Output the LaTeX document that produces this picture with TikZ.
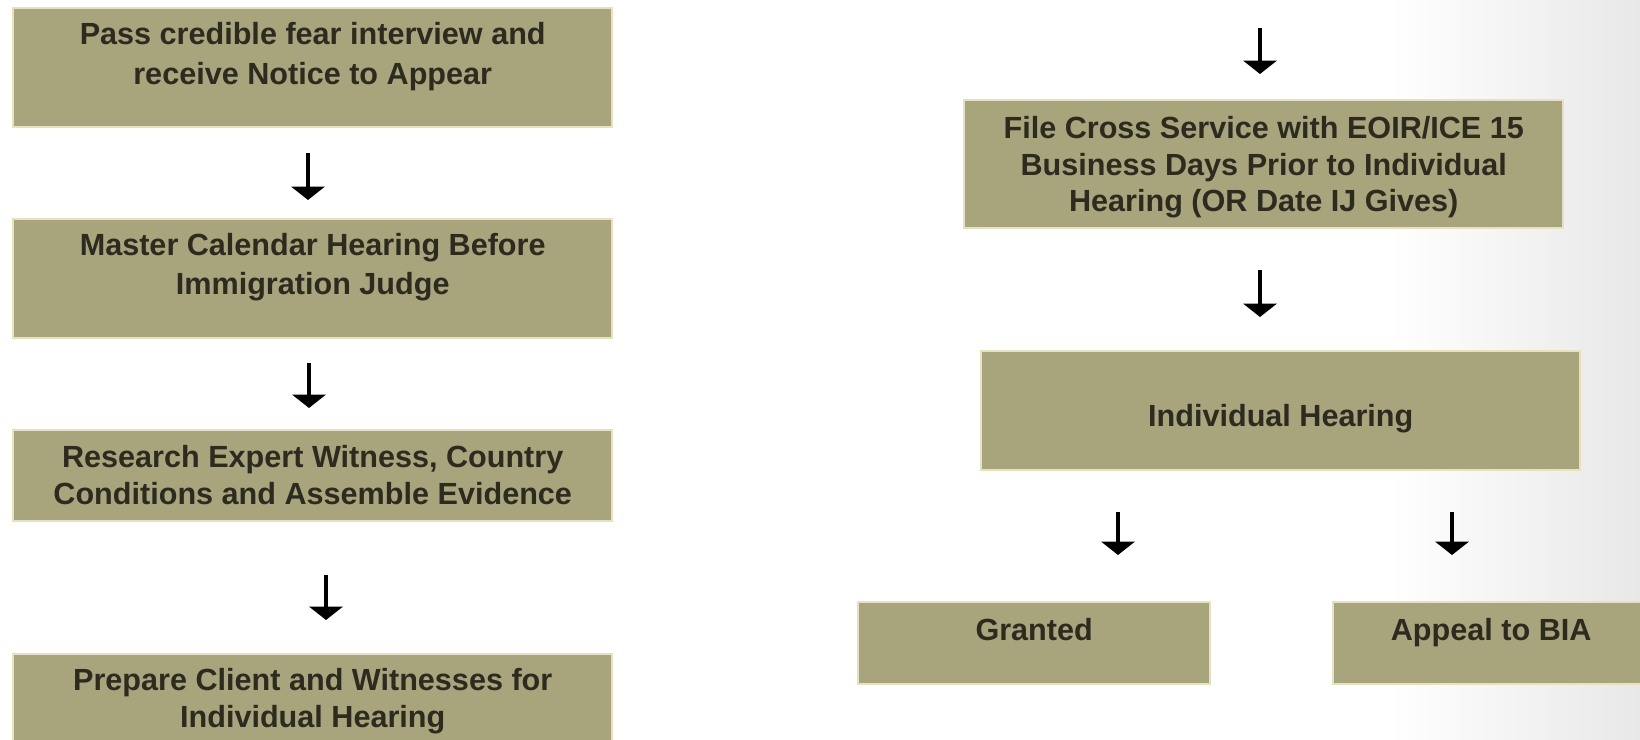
\documentclass[tikz,border=0pt]{standalone}
\usepackage{fontspec}
\setmainfont{Liberation Sans}
\usetikzlibrary{arrows.meta,positioning,calc}
\definecolor{boxfill}{RGB}{168,164,124}
\definecolor{boxline}{RGB}{230,226,192}
\definecolor{ink}{RGB}{45,42,32}
\newcommand{\steptext}[1]{\begin{tabular}[t]{@{}c@{}}#1\end{tabular}}
\tikzset{
    stepbox/.style={draw=boxline, line width=0.6pt, fill=boxfill, text=ink,
        font=\bfseries\fontsize{8.7}{10.5}\selectfont,
        inner sep=0pt, anchor=north west},
    down/.style={draw, line width=1.3pt, -{Triangle[width=9.4pt, length=3.8pt]}}
}
\begin{document}
\begin{tikzpicture}[x=0.01cm, y=-0.01cm]
        \useasboundingbox (0,0) rectangle (1640,739);
        % background
        \shade[left color=white, right color=black!9] (1390,0) rectangle (1640,739);
        % left column
        \node[stepbox, minimum width=5.99cm, text height=0.36cm, text depth=0.83cm] (pass) at (12,7)
            {\steptext{Pass credible fear interview and\\[1.1pt]receive Notice to Appear}};
        \node[stepbox, minimum width=5.99cm, text height=0.36cm, text depth=0.83cm] (master) at (12,218)
            {\steptext{Master Calendar Hearing Before\\[0.8pt]Immigration Judge}};
        \node[stepbox, minimum width=5.99cm, text height=0.37cm, text depth=0.54cm] (research) at (12,429)
            {\steptext{Research Expert Witness, Country\\Conditions and Assemble Evidence}};
        \node[stepbox, minimum width=5.99cm, text height=0.36cm, text depth=0.64cm] (prepare) at (12,653)
            {\steptext{Prepare Client and Witnesses for\\Individual Hearing}};
        % right column
        \node[stepbox, minimum width=5.99cm, text height=0.38cm, text depth=0.90cm] (cross) at (963,99)
            {\steptext{File Cross Service with EOIR/ICE 15\\Business Days Prior to Individual\\Hearing (OR Date IJ Gives)}};
        \node[stepbox, minimum width=5.99cm, text height=0.75cm, text depth=0.44cm] (hearing) at (980,350)
            {Individual Hearing};
        \node[stepbox, minimum width=3.52cm, text height=0.38cm, text depth=0.44cm] (granted) at (857,601)
            {Granted};
        \node[stepbox, minimum width=3.16cm, text height=0.38cm, text depth=0.44cm] (appeal) at (1332,601)
            {Appeal to BIA};
        % arrow ends
        \coordinate (a0s) at (1260,28);  \coordinate (a0e) at (1260,74);
        \coordinate (a1s) at (308,153);  \coordinate (a1e) at (308,200);
        \coordinate (a2s) at (309,363);  \coordinate (a2e) at (309,408);
        \coordinate (a3s) at (326,575);  \coordinate (a3e) at (326,620);
        \coordinate (a4s) at (1260,270); \coordinate (a4e) at (1260,317);
        \coordinate (a5s) at (1118,512); \coordinate (a5e) at (1118,555);
        \coordinate (a6s) at (1452,512); \coordinate (a6e) at (1452,555);
        % arrows
        \path[down] (a0s) to (a0e);
        \path[down] (a1s) to (a1e);
        \path[down] (a2s) to (a2e);
        \path[down] (a3s) to (a3e);
        \path[down] (a4s) to (a4e);
        \path[down] (a5s) to (a5e);
        \path[down] (a6s) to (a6e);
\end{tikzpicture}
\end{document}
